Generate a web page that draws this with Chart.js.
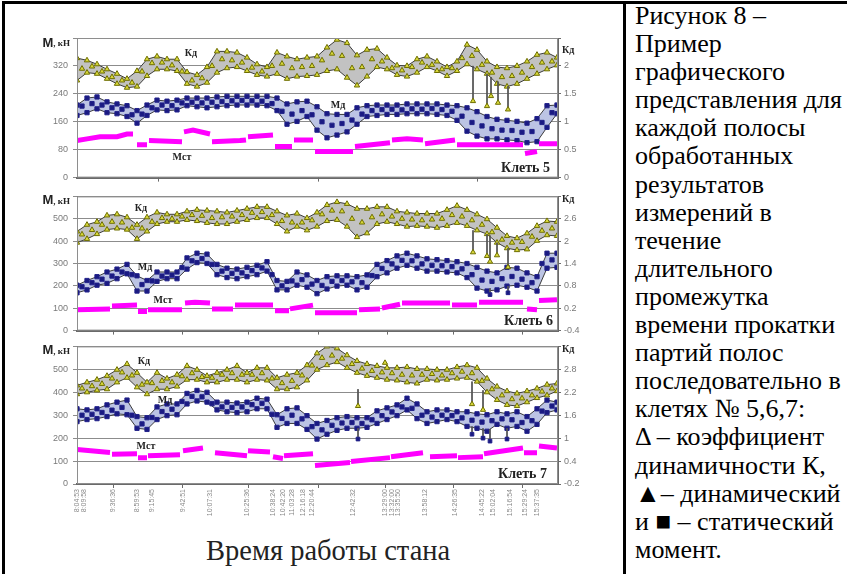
<!DOCTYPE html>
<html lang="ru">
<head>
<meta charset="utf-8">
<title>Рисунок 8 – моменты прокатки в клетях № 5, 6, 7</title>
<script src="https://cdn.jsdelivr.net/npm/chart.js@4.4.1/dist/chart.umd.min.js"></script>
<style>
  html, body { margin: 0; padding: 0; background: #fff; }
  body { width: 847px; height: 574px; position: relative; overflow: hidden; }
  .rule { position: absolute; background: #000; }
  .rule.top { left: 2px; top: 1px; width: 845px; height: 3px; }
  .rule.left { left: 2px; top: 1px; width: 3px; height: 573px; }
  .rule.mid { left: 623px; top: 1px; width: 3px; height: 573px; }
  .note { position: absolute; left: 635px; top: 2px; width: 212px;
          font-size: 26px; line-height: 28.1px; color: #000; white-space: nowrap; }
  .xtitle { position: absolute; left: 206px; top: 536px;
            font-size: 28.5px; line-height: 30px; color: #222; white-space: nowrap; }
  canvas { position: absolute; left: 0; }
  #c5 { top: 20px; }
  #c6 { top: 186px; }
  #c7 { top: 336px; }
</style>
</head>
<body>
<div class="rule top"></div>
<div class="rule left"></div>
<div class="rule mid"></div>

<canvas id="c5" width="625" height="168"></canvas>
<canvas id="c6" width="625" height="155"></canvas>
<canvas id="c7" width="625" height="194"></canvas>

<div class="xtitle" style="font-family:'Liberation Serif','Times New Roman',serif">Время работы стана</div>

<div class="note" style="font-family:'Liberation Serif','Times New Roman',serif">Рисунок 8 –<br>Пример<br>графического<br>представления для<br>каждой полосы<br>обработанных<br>результатов<br>измерений в<br>течение<br>длительного<br>промежутка<br>времени прокатки<br>партий полос<br>последовательно в<br>клетях № 5,6,7:<br>Δ – коэффициент<br>динамичности К,<br>▲– динамический<br>и ■ – статический<br>момент.</div>

<script>
// Strips rolled during the shift; envelopes are sampled every STEP strips.
const STRIPS = 481;
const STEP = 10;

// Time stamps printed under the bottom panel and the strips they belong to.
const timeLabels = ['8:04:53','8:09:58','9:36:36','8:59:53','9:15:45','9:42:51','10:07:31','10:25:36',
  '10:38:24','10:42:20','11:03:28','12:16:18','12:20:44','12:42:32','13:29:00','13:32:00','13:35:50',
  '13:58:12','14:26:35','14:45:22','15:02:04','15:16:54','15:29:24','15:37:35'];
const labelStrips = [0,7,36,60,75,106,133,170,196,206,215,226,235,276,308,315,321,348,378,405,416,433,448,460];

// ---------- Клеть 5 ----------
const kd5Hi = [2.14,2.10,2.03,1.94,1.86,1.77,1.91,2.12,2.17,2.12, 2.12,1.89,1.84,1.98,2.26,2.26,2.24,2.15,2.03,1.98,
  2.24,2.17,2.12,2.15,2.17,2.33,2.47,2.41,2.19,2.29, 2.31,2.15,2.01,2.00,2.12,2.17,2.08,1.98,2.08,2.38,
  2.29,2.08,1.98,1.96,2.00,2.08,2.20,2.24,2.15];
const kd5Lo = [1.74,1.88,1.86,1.77,1.68,1.61,1.63,1.82,1.94,1.94, 1.91,1.68,1.63,1.70,1.88,1.96,1.98,1.91,1.84,1.81,
  1.86,1.77,1.81,1.82,1.84,1.91,1.94,1.79,1.65,1.81, 1.98,1.94,1.84,1.81,1.88,1.98,1.91,1.82,1.91,2.03,
  1.94,1.86,1.68,1.63,1.68,1.77,1.86,1.94,2.01];
const kd5Mid = [1.95,1.99,1.90,1.80,1.74,1.70,1.90,2.05,2.06,2.01, 1.90,1.74,1.78,2.00,2.12,2.10,2.06,1.97,1.90,2.00,
  2.04,1.96,1.98,2.00,2.10,2.22,2.18,1.96,1.98,2.12, 2.08,1.96,1.92,1.98,2.06,2.02,1.94,1.96,2.14,2.18,
  2.02,1.88,1.80,1.82,1.88,1.98,2.06,2.08];
const md5Hi = [208,228,231,217,211,206,192,208,222,219, 222,228,228,228,231,233,233,233,233,233,
  228,211,217,219,203,183,181,181,200,206, 208,208,208,211,211,211,211,208,206,200,
  189,175,167,164,161,156,169,206,208];
const md5Lo = [178,186,197,186,183,175,156,178,194,192, 194,206,203,200,203,206,208,208,208,206,
  192,153,161,175,136,114,122,131,153,175, 178,181,181,183,183,183,181,178,164,133,
  119,111,111,108,106,100,103,144,183];
const md5Mid = [205,212,208,200,196,180,182,200,208,206, 214,216,214,216,218,220,221,220,219,212,
  190,182,192,180,160,150,155,165,182,192, 195,196,194,197,196,198,195,190,176,158,
  148,140,136,135,130,132,158,186];
const mst5 = [
  [[0,106],[10,111],[23,117],[40,117],[50,125],[56,125]], [[60,94],[70,94]], [[72,106],[105,103]],
  [[107,131],[116,136],[133,125]], [[135,103],[163,106],[169,108]], [[171,117],[196,122]],
  [[198,89],[215,89]], [[217,108],[236,108]], [[238,75],[276,75]], [[278,89],[313,100]],
  [[315,108],[330,111],[346,108]], [[348,97],[378,108]], [[380,94],[446,94]], [[448,69],[460,75]],
  [[462,97],[480,97]]
];
const kd5Drops = [[396,2.00,1.37],[410,1.86,1.28],[414,1.80,1.46],[421,1.72,1.34],[431,1.64,1.22]];
const md5Drops = [];

// ---------- Клеть 6 ----------
const kd6Hi = [2.26,2.44,2.52,2.69,2.72,2.64,2.44,2.64,2.77,2.72, 2.72,2.80,2.84,2.82,2.80,2.77,2.82,2.87,2.92,2.92,
  2.80,2.69,2.74,2.62,2.77,2.97,3.05,3.00,2.87,2.87, 2.92,2.92,2.80,2.77,2.74,2.74,2.74,2.84,2.95,2.84,
  2.72,2.59,2.36,2.14,2.08,2.21,2.41,2.54,2.52];
const kd6Lo = [1.96,2.06,2.19,2.31,2.34,2.31,2.06,2.26,2.46,2.52, 2.52,2.57,2.54,2.49,2.46,2.46,2.52,2.57,2.62,2.62,
  2.46,2.26,2.39,2.29,2.39,2.54,2.57,2.39,2.11,2.21, 2.46,2.52,2.46,2.39,2.41,2.39,2.36,2.41,2.49,2.41,
  2.29,2.19,1.96,1.81,1.76,1.78,2.01,2.16,2.14];
const kd6Mid = [2.18,2.30,2.44,2.52,2.50,2.36,2.34,2.52,2.62,2.60, 2.66,2.70,2.68,2.62,2.64,2.66,2.70,2.76,2.78,2.70,
  2.54,2.50,2.50,2.56,2.72,2.82,2.80,2.60,2.50,2.64, 2.72,2.66,2.60,2.58,2.56,2.58,2.60,2.70,2.66,2.56,
  2.44,2.24,2.04,1.96,1.98,2.12,2.28,2.34];
const md6Hi = [203,224,241,262,275,296,245,224,262,262, 262,325,346,342,296,279,275,283,292,308,
  224,220,262,249,224,241,245,245,241,249, 296,313,334,346,334,321,317,313,308,300,
  283,266,258,283,279,258,241,346,346];
const md6Lo = [169,182,203,211,232,254,177,177,220,232, 232,275,304,300,250,237,232,241,250,266,
  182,182,203,194,165,186,199,203,182,194, 241,258,279,292,279,266,266,262,258,237,
  190,177,182,199,203,194,177,279,283];
const md6Mid = [196,214,230,244,262,250,206,222,244,248, 282,312,322,296,266,256,258,268,280,250,
  200,222,228,208,202,220,224,218,214,246, 278,298,314,312,298,292,290,286,276,250,
  226,220,232,242,230,214,300,316];
const mst6 = [
  [[0,93],[33,97]], [[35,110],[60,114]], [[61,85],[70,85]], [[71,93],[105,93]],
  [[108,123],[118,127],[133,123]], [[135,97],[156,97]], [[158,114],[196,114]], [[198,89],[212,89]],
  [[213,97],[236,114]], [[238,80],[280,80]], [[282,93],[303,97]], [[305,101],[323,118]],
  [[325,123],[373,123]], [[375,114],[400,114]], [[402,127],[446,127]], [[450,97],[460,93]],
  [[462,135],[480,138]]
];
const kd6Drops = [[396,2.29,1.70],[410,2.19,1.60],[413,2.15,1.45],[420,1.96,1.62],[431,1.81,1.30]];
const md6Drops = [[413,190,161],[431,199,169]];

// ---------- Клеть 7 ----------
const kd7Hi = [2.38,2.46,2.53,2.63,2.79,2.94,2.71,2.46,2.71,2.56, 2.66,2.89,2.79,2.63,2.71,2.79,2.89,2.71,2.84,2.84,
  2.58,2.66,2.71,2.91,3.22,3.40,3.35,3.17,3.02,2.94, 2.89,2.84,2.84,2.86,2.81,2.81,2.79,2.79,2.86,2.91,
  2.84,2.56,2.35,2.23,2.17,2.23,2.30,2.40,2.43];
const kd7Lo = [2.15,2.20,2.25,2.28,2.46,2.58,2.33,2.15,2.28,2.28, 2.35,2.53,2.53,2.46,2.46,2.53,2.53,2.46,2.53,2.51,
  2.28,2.28,2.33,2.51,2.79,2.91,2.99,2.84,2.71,2.63, 2.58,2.53,2.51,2.46,2.43,2.53,2.51,2.53,2.56,2.58,
  2.48,2.20,2.00,1.87,1.84,1.94,2.05,2.12,2.23];
const kd7Mid = [2.30,2.36,2.42,2.56,2.72,2.64,2.40,2.44,2.50,2.46, 2.62,2.70,2.60,2.58,2.66,2.70,2.66,2.66,2.70,2.56,
  2.44,2.50,2.64,2.90,3.10,3.16,3.08,2.94,2.82,2.76, 2.72,2.70,2.66,2.64,2.66,2.68,2.64,2.70,2.74,2.70,
  2.50,2.28,2.12,2.02,2.04,2.12,2.22,2.30];
const md7Hi = [328,323,328,345,357,366,294,289,336,349, 349,395,408,400,357,357,353,357,374,370,
  302,328,332,298,264,277,289,294,289,289, 319,332,345,374,349,315,323,323,315,315,
  306,302,315,306,315,294,328,366,357];
const md7Lo = [272,281,285,294,306,302,243,238,281,298, 302,349,362,357,323,315,311,315,328,328,
  247,264,264,238,196,217,234,243,243,247, 264,281,298,323,285,264,272,281,272,251,
  243,230,260,243,251,230,260,311,323];
const md7Mid = [300,304,312,322,334,300,262,290,316,326, 360,382,380,350,336,334,336,346,352,304,
  286,300,284,250,236,256,266,268,264,280, 298,314,336,330,300,292,300,298,288,278,
  270,276,284,280,268,276,318,340];
const mst7 = [
  [[0,150],[33,137]], [[35,130],[60,132]], [[61,115],[70,115]], [[71,123],[103,128]],
  [[106,145],[126,157]], [[138,136],[170,123]], [[171,145],[193,140]], [[196,119],[206,111]],
  [[207,123],[236,132]], [[238,81],[273,94]], [[274,98],[313,115]], [[314,119],[346,136]],
  [[353,119],[380,123]], [[381,115],[406,119]], [[407,132],[446,157]], [[447,136],[460,136]],
  [[462,166],[480,157]]
];
const kd7Drops = [[281,2.28,1.84],[308,2.97,2.97],[395,2.48,1.89],[406,2.25,1.74]];
const md7Drops = [[281,243,196],[395,251,217],[406,243,200],[413,240,187],[430,243,196]];

// ---------- styling ----------
const EDGE = '#3c3c3c';
const AXIS = '#6a6a6a';
const GRID = '#8c8c8c';
const TICK_TXT = '#7a7a7a';
const KD_BAND = '#c2c2c2';
const MD_BAND = '#bcc4e4';
const SANS = "'Liberation Sans', Arial, sans-serif";
const SERIF = "'Liberation Serif', 'Times New Roman', serif";

const triangle = { pointStyle: 'triangle', pointBackgroundColor: '#d8d83a', pointBorderColor: '#6e6e00', pointBorderWidth: 1 };
const square = { pointStyle: 'rect', pointBackgroundColor: '#1a1a82', pointBorderColor: '#22228a', pointBorderWidth: 1 };

const envelope = (arr, x0) => arr.map((v, i) => ({ x: x0 + i * STEP, y: v }));
const runsToPoints = runs => runs.flatMap(run =>
  run.map(([x, y]) => ({ x, y })).concat([{ x: run[run.length - 1][0] + 0.5, y: null }]));
const dropsToPoints = drops => drops.flatMap(([x, top, bottom]) =>
  [{ x, y: top }, { x, y: bottom }, { x: x + 0.1, y: null }]);

function buildPanel(canvasId, p) {
  const decor = {
    id: 'panelDecor',
    afterDraw(chart) {
      const { ctx, chartArea: a, scales } = chart;
      ctx.save();
      // plot-area frame
      ctx.strokeStyle = '#8e8e8e';
      ctx.lineWidth = 1;
      ctx.strokeRect(a.left + 0.5, a.top + 0.5, a.right - a.left - 1, a.bottom - a.top - 1);
      // time-axis tick marks
      ctx.strokeStyle = AXIS;
      p.tickStrips.forEach(s => {
        const x = Math.round(scales.x.getPixelForValue(s)) + 0.5;
        ctx.beginPath(); ctx.moveTo(x, a.bottom); ctx.lineTo(x, a.bottom + 4); ctx.stroke();
      });
      // axis captions
      ctx.fillStyle = '#222';
      ctx.textBaseline = 'middle';
      ctx.textAlign = 'right';
      ctx.font = 'bold 9px ' + SERIF;
      const tail = ', кН';
      const tw = ctx.measureText(tail).width;
      const ty = a.top + p.leftTitleDy;
      ctx.fillText(tail, a.left - 7, ty + 1);
      ctx.font = 'bold 13px ' + SANS;
      ctx.fillText('М', a.left - 7 - tw, ty);
      ctx.textAlign = 'left';
      ctx.font = 'bold 10px ' + SERIF;
      ctx.fillText('Кд', a.right + 4, a.top + p.rightTitleDy);
      // curve names and stand name
      p.notes.forEach(n => {
        ctx.font = n.font;
        ctx.textAlign = n.align || 'center';
        ctx.fillText(n.text, scales.x.getPixelForValue(n.x), scales[n.axis].getPixelForValue(n.y));
      });
      ctx.restore();
    }
  };

  const xScale = {
    type: 'linear', min: 0, max: STRIPS,
    grid: { display: false, drawTicks: false },
    border: { display: true, color: AXIS, width: 2 },
    ticks: { display: false },
    afterFit: s => { s.height = p.xHeight; }
  };
  if (p.timeAxis) {
    xScale.ticks = {
      display: true, autoSkip: false, maxRotation: 90, minRotation: 90,
      padding: 5, color: '#8a8a8a', font: { family: SANS, size: 7 },
      callback: (v, i) => timeLabels[i]
    };
    xScale.afterBuildTicks = s => { s.ticks = labelStrips.map(v => ({ value: v })); };
  }

  const kdMax = p.kd.max;
  return new Chart(document.getElementById(canvasId), {
    type: 'line',
    data: {
      datasets: [
        { label: 'Кд верх', data: envelope(p.kdHi, 0), yAxisID: 'y2', order: 8,
          borderColor: EDGE, borderWidth: 1, fill: '+1', backgroundColor: KD_BAND, pointRadius: 3.1, ...triangle },
        { label: 'Кд низ', data: envelope(p.kdLo, 0), yAxisID: 'y2', order: 7,
          borderColor: EDGE, borderWidth: 1, fill: false, pointRadius: 3.1, ...triangle },
        { label: 'Кд', data: envelope(p.kdMid, STEP / 2), yAxisID: 'y2', order: 6,
          showLine: false, pointRadius: 3.1, ...triangle },
        { label: 'Мд верх', data: envelope(p.mdHi, 0), yAxisID: 'y', order: 8,
          borderColor: EDGE, borderWidth: 1, fill: '+1', backgroundColor: MD_BAND, pointRadius: 3, ...square },
        { label: 'Мд низ', data: envelope(p.mdLo, 0), yAxisID: 'y', order: 7,
          borderColor: EDGE, borderWidth: 1, fill: false, pointRadius: 3, ...square },
        { label: 'Мд', data: envelope(p.mdMid, STEP / 2), yAxisID: 'y', order: 6,
          showLine: false, pointRadius: 3, ...square },
        { label: 'Кд пики', data: dropsToPoints(p.kdDrops), yAxisID: 'y2', order: 2,
          borderColor: '#555', borderWidth: 1, fill: false,
          pointRadius: c => (c.dataIndex % 3 === 1 ? 3 : 0), ...triangle },
        { label: 'Мд пики', data: dropsToPoints(p.mdDrops), yAxisID: 'y', order: 2,
          borderColor: '#555', borderWidth: 1, fill: false,
          pointRadius: c => (c.dataIndex % 3 === 1 ? 2.6 : 0), ...square },
        { label: 'Мст', data: runsToPoints(p.mst), yAxisID: 'y', order: 1,
          borderColor: '#ff00ff', borderWidth: 5, borderCapStyle: 'butt', pointRadius: 0, fill: false }
      ]
    },
    options: {
      responsive: false, animation: false, events: [],
      spanGaps: false,
      layout: { padding: p.padding },
      plugins: { legend: { display: false }, tooltip: { enabled: false } },
      scales: {
        x: xScale,
        y: {
          position: 'left', min: 0, max: p.m.max,
          ticks: { stepSize: p.m.step, padding: 5, color: TICK_TXT, font: { family: SANS, size: 9 },
                   callback: v => (v === p.m.max ? '' : v) },
          grid: { color: GRID, lineWidth: 1, tickLength: 4 },
          border: { color: AXIS, width: 1 },
          afterFit: s => { s.width = 70; }
        },
        y2: {
          position: 'right', min: p.kd.min, max: kdMax,
          ticks: { stepSize: p.kd.step, padding: 3, color: TICK_TXT, font: { family: SANS, size: 9 },
                   callback: v => (Math.abs(v - kdMax) < 1e-6 ? '' : String(+v.toFixed(1))) },
          grid: { drawOnChartArea: false, color: AXIS, tickLength: 3 },
          border: { color: AXIS, width: 1 },
          afterFit: s => { s.width = 60; }
        }
      }
    },
    plugins: [decor]
  });
}

const NOTE = 'bold 10px ' + SERIF;
const STAND = 'bold 14px ' + SERIF;

buildPanel('c5', {
  kdHi: kd5Hi, kdLo: kd5Lo, kdMid: kd5Mid, mdHi: md5Hi, mdLo: md5Lo, mdMid: md5Mid,
  mst: mst5, kdDrops: kd5Drops, mdDrops: md5Drops,
  m: { max: 400, step: 80 }, kd: { min: 0, max: 2.5, step: 0.5 },
  padding: { top: 18, bottom: 2, left: 7, right: 7 }, xHeight: 4,
  tickStrips: [81, 241, 400], leftTitleDy: 5, rightTitleDy: 12,
  notes: [
    { text: 'Кд', x: 114, y: 2.22, axis: 'y2', font: NOTE },
    { text: 'Мд', x: 261, y: 206, axis: 'y', font: NOTE },
    { text: 'Мст', x: 105, y: 58, axis: 'y', font: NOTE },
    { text: 'Клеть 5', x: 473, y: 25, axis: 'y', font: STAND, align: 'right' }
  ]
});

buildPanel('c6', {
  kdHi: kd6Hi, kdLo: kd6Lo, kdMid: kd6Mid, mdHi: md6Hi, mdLo: md6Lo, mdMid: md6Mid,
  mst: mst6, kdDrops: kd6Drops, mdDrops: md6Drops,
  m: { max: 600, step: 100 }, kd: { min: -0.4, max: 3.2, step: 0.6 },
  padding: { top: 7, bottom: 2, left: 7, right: 7 }, xHeight: 4,
  tickStrips: [36, 105, 171, 241, 310, 376, 445], leftTitleDy: 4, rightTitleDy: 3,
  notes: [
    { text: 'Кд', x: 64, y: 2.87, axis: 'y2', font: NOTE },
    { text: 'Мд', x: 68, y: 283, axis: 'y', font: NOTE },
    { text: 'Мст', x: 86, y: 135, axis: 'y', font: NOTE },
    { text: 'Клеть 6', x: 476, y: 42, axis: 'y', font: STAND, align: 'right' }
  ]
});

buildPanel('c7', {
  kdHi: kd7Hi, kdLo: kd7Lo, kdMid: kd7Mid, mdHi: md7Hi, mdLo: md7Lo, mdMid: md7Mid,
  mst: mst7, kdDrops: kd7Drops, mdDrops: md7Drops,
  m: { max: 600, step: 100 }, kd: { min: -0.2, max: 3.4, step: 0.6 },
  padding: { top: 7, bottom: 6, left: 7, right: 7 }, xHeight: 40, timeAxis: true,
  tickStrips: [36, 105, 171, 241, 308, 376, 445], leftTitleDy: 4, rightTitleDy: 3,
  notes: [
    { text: 'Кд', x: 67, y: 3.02, axis: 'y2', font: NOTE },
    { text: 'Мд', x: 88, y: 366, axis: 'y', font: NOTE },
    { text: 'Мст', x: 69, y: 162, axis: 'y', font: NOTE },
    { text: 'Клеть 7', x: 470, y: 43, axis: 'y', font: STAND, align: 'right' }
  ]
});
</script>
</body>
</html>
